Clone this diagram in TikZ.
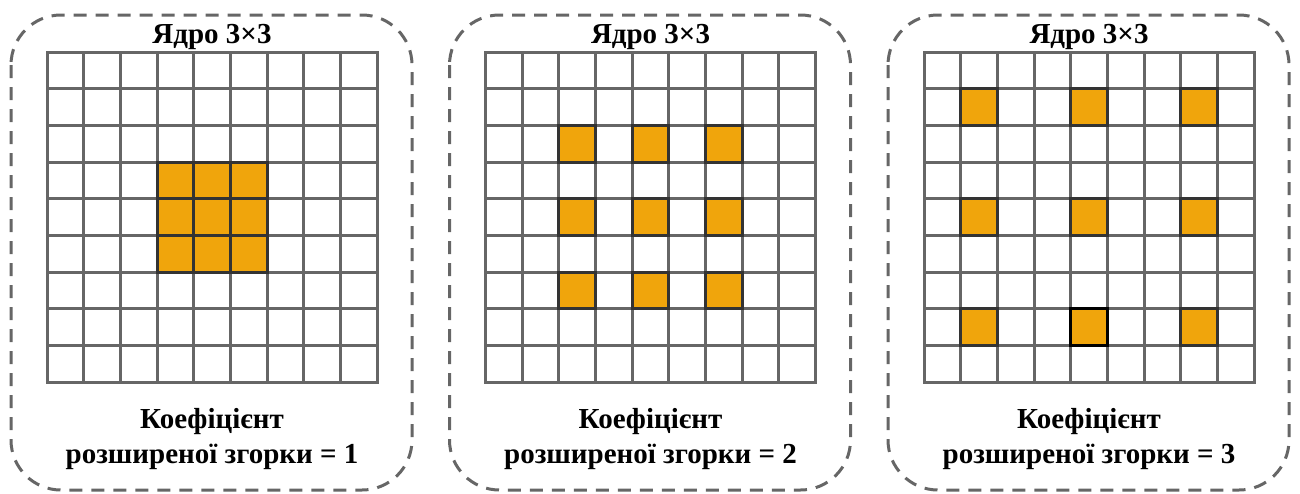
\documentclass[tikz,border=0pt]{standalone}
\usepackage{fontspec}
\setmainfont{Liberation Serif}
\definecolor{gridc}{HTML}{666666}
\definecolor{hborder}{HTML}{333333}
\definecolor{orangec}{RGB}{240,165,12}
\tikzset{
  panel/.style={draw=gridc, line width=3pt, dash pattern=on 13pt off 9pt, rounded corners=50pt},
  gridline/.style={draw=gridc, line width=3pt},
  hcell/.style={draw=hborder, fill=orangec, line width=3pt, minimum size=36.67pt, inner sep=0pt, outer sep=0pt},
  kcell/.style={hcell, draw=black},
  txt/.style={font=\bfseries\fontsize{29}{33}\selectfont, inner sep=0pt, anchor=base},
}
\begin{document}
\begin{tikzpicture}[x=1pt,y=-1pt]
\useasboundingbox (0,0) rectangle (1300,493);
\foreach \p/\d in {0/1,1/2,2/3} {
  \pgfmathsetmacro\ox{47+438.5*\p}
  \draw[panel] (\ox-36,15) rectangle ++(401,475);
  \foreach \i in {1,...,8} {
    \draw[gridline] (\ox+\i*36.67,52) -- (\ox+\i*36.67,382);
    \draw[gridline] (\ox,52+\i*36.67) -- (\ox+330,52+\i*36.67);
  }
  \draw[gridline] (\ox,52) rectangle (\ox+330,382);
  \foreach \r in {-1,0,1} {
    \foreach \c in {-1,0,1} {
      \pgfmathsetmacro\cx{\ox+(4+\d*\c)*36.67+18.33}
      \pgfmathsetmacro\cy{52+(4+\d*\r)*36.67+18.33}
      \node[hcell] (cell\p-\r-\c) at (\cx,\cy) {};
    }
  }
  \node[txt] (title\p) at (\ox+165,43) {Ядро 3×3};
  \node[txt] (capa\p) at (\ox+165,428) {Коефіцієнт};
  \node[txt] (capb\p) at (\ox+165,463) {розширеної згорки = \d};
}
\node[kcell] (special) at (cell2-1-0) {};
\end{tikzpicture}
\end{document}
